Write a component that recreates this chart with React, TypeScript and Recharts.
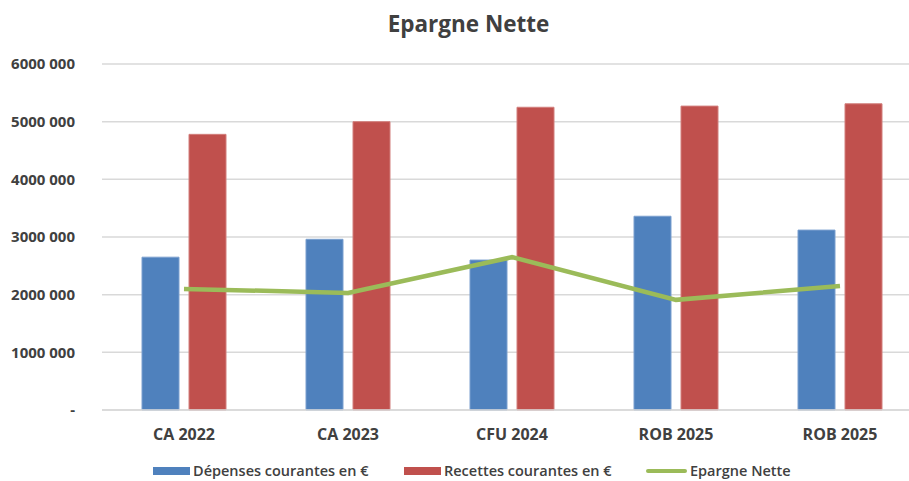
import React from 'react';
import { ComposedChart, Bar, Line, XAxis, YAxis, CartesianGrid, Legend } from 'recharts';

const categories = ['CA 2022', 'CA 2023', 'CFU 2024', 'ROB 2025', 'ROB 2025'];
const depenses = [2650000, 2960000, 2600000, 3360000, 3120000];
const recettes = [4780000, 5000000, 5250000, 5270000, 5310000];
const epargne = [2100000, 2030000, 2650000, 1910000, 2150000];

const yTicks = [0, 1000000, 2000000, 3000000, 4000000, 5000000, 6000000];
const yTickLabels = ['-', '1000 000', '2000 000', '3000 000', '4000 000', '5000 000', '6000 000'];

const seriesNames = ['Dépenses courantes en €', 'Recettes courantes en €', 'Epargne Nette'];

const data = categories.map((name, i) => ({
  name,
  depenses: depenses[i],
  recettes: recettes[i],
  epargne: epargne[i],
}));

const FONT = '"Open Sans", sans-serif';
const TEXT = '#404040';

function ChartLegend() {
  const item = (swatch: React.ReactNode, label: string, left: number) => (
    <div style={{ position: 'absolute', left, top: 0, display: 'flex', alignItems: 'center', height: 18 }}>
      {swatch}
      <span style={{ marginLeft: 3, fontFamily: FONT, fontWeight: 600, fontSize: 14.5, lineHeight: '18px', color: TEXT, whiteSpace: 'nowrap' }}>
        {label}
      </span>
    </div>
  );
  return (
    <div style={{ position: 'relative', width: 909, height: 18 }}>
      {item(<div style={{ width: 37, height: 8, background: '#4F81BD' }} />, seriesNames[0], 153)}
      {item(<div style={{ width: 37, height: 8, background: '#C0504D' }} />, seriesNames[1], 404)}
      {item(<div style={{ width: 41, height: 4, borderRadius: 2, background: '#9BBB59' }} />, seriesNames[2], 646)}
    </div>
  );
}

export default function App() {
  return (
    <div style={{ position: 'absolute', left: 0, top: 0, width: 909, height: 481, overflow: 'hidden', background: '#fff' }}>
      <div
        style={{
          position: 'absolute',
          left: 0,
          width: 937,
          top: 8,
          textAlign: 'center',
          fontFamily: FONT,
          fontWeight: 700,
          fontSize: 22.5,
          color: TEXT,
          lineHeight: '32px',
        }}
      >
        Epargne Nette
      </div>
      <ComposedChart
        width={922}
        height={481}
        data={data}
        margin={{ top: 64, right: 0, left: 0, bottom: 13 }}
        barSize={37}
        barGap={10}
      >
        <CartesianGrid vertical={false} stroke="#D9D9D9" strokeWidth={1.5} />
        <XAxis
          dataKey="name"
          height={40}
          axisLine={{ stroke: '#D9D9D9', strokeWidth: 1.5 }}
          tickLine={false}
          tickSize={0}
          tickMargin={19}
          tick={{ fontFamily: FONT, fontWeight: 700, fontSize: 16, fill: TEXT }}
        />
        <YAxis
          width={102}
          domain={[0, 6000000]}
          ticks={yTicks}
          axisLine={false}
          tickLine={false}
          tickSize={0}
          tickMargin={27}
          tickFormatter={(v: number) => yTickLabels[yTicks.indexOf(v)]}
          tick={{ fontFamily: FONT, fontWeight: 700, fontSize: 15, fill: TEXT }}
        />
        <Legend
          verticalAlign="bottom"
          content={() => <ChartLegend />}
          wrapperStyle={{ left: 0, width: 909, height: 18, bottom: 'auto', top: 462 }}
        />
        <Bar dataKey="depenses" name={seriesNames[0]} fill="#4F81BD" stroke="#7A9FCF" strokeWidth={1} isAnimationActive={false} />
        <Bar dataKey="recettes" name={seriesNames[1]} fill="#C0504D" stroke="#D27F7D" strokeWidth={1} isAnimationActive={false} />
        <Line
          dataKey="epargne"
          name={seriesNames[2]}
          type="linear"
          stroke="#9BBB59"
          strokeWidth={4.5}
          dot={false}
          activeDot={false}
          isAnimationActive={false}
        />
      </ComposedChart>
    </div>
  );
}
